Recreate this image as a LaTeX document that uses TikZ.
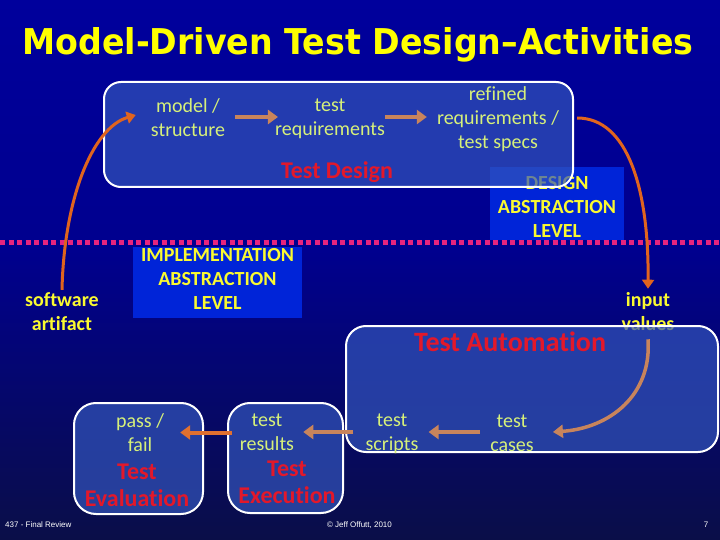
\documentclass[tikz,border=0pt]{standalone}
\usepackage{fontspec}
\setmainfont{Carlito}[Ligatures=NoCommon]
\newfontfamily\titlefont{DejaVu Sans}
\newfontfamily\footfont{Liberation Sans}
\usetikzlibrary{arrows.meta}
\definecolor{bgtop}{HTML}{00009C}
\definecolor{bgmid}{HTML}{00008E}
\definecolor{bgbot}{HTML}{0A0E48}
\definecolor{boxblue}{HTML}{3355BB}
\definecolor{lvlblue}{HTML}{0024D8}
\definecolor{lblgreen}{HTML}{D6F07A}
\definecolor{ylw}{HTML}{FAFA30}
\definecolor{titleylw}{HTML}{FFFF00}
\definecolor{rred}{HTML}{E3182A}
\definecolor{tanc}{HTML}{C8845C}
\definecolor{orangec}{HTML}{E0641E}
\definecolor{orange2}{HTML}{E07030}
\definecolor{dotc}{HTML}{E6247E}
\begin{document}
\begin{tikzpicture}[x=1pt,y=-1pt,
  lbl/.style={text=lblgreen, align=center, font=\fontsize{20}{24}\selectfont, inner sep=0pt},
  ylbl/.style={text=ylw, align=center, font=\bfseries\fontsize{20}{24}\selectfont, inner sep=0pt},
  rtitle/.style={text=rred, align=center, font=\bfseries\fontsize{24}{27}\selectfont, inner sep=0pt},
  stage/.style={draw=white, line width=2pt, fill=boxblue, fill opacity=0.7, inner sep=0pt},
  level/.style={fill=lvlblue, inner sep=0pt},
  tanarrow/.style={draw=tanc, line width=4pt, -{Triangle[length=10pt,width=14pt]}},
  orarrow/.style={draw=orange2, line width=4pt, -{Triangle[length=10pt,width=14pt]}},
  curvearrow/.style={draw=orangec, line width=3pt, -{Triangle[length=9pt,width=12pt]}},
  curvetan/.style={draw=tanc, line width=3.5pt, -{Triangle[length=10pt,width=13pt]}},
  foot/.style={text=white, font=\footfont\fontsize{8}{9}\selectfont, inner sep=0pt}]
\useasboundingbox (0,0) rectangle (720,540);
% background
\shade[top color=bgtop, bottom color=bgmid] (0,0) rectangle (720,250);
\shade[top color=bgmid, bottom color=bgbot] (0,250) rectangle (720,540);
% title
\node[text=titleylw, anchor=base, inner sep=0pt] (title) at (358,55)
  {\resizebox{671pt}{27pt}{\titlefont\bfseries Model-Driven Test Design–Activities}};
% abstraction level boxes
\node[level, minimum width=134pt, minimum height=73pt] (dlvlbox) at (557,203.5) {};
\node[ylbl] (dlvl) at (557,207) {DESIGN\\ABSTRACTION\\LEVEL};
\node[level, minimum width=169pt, minimum height=71pt] (ilvlbox) at (217.5,282.5) {};
\node[ylbl] (ilvl) at (217.5,279) {IMPLEMENTATION\\ABSTRACTION\\LEVEL};
% dotted separator
\draw[dotc, line width=5pt, dash pattern=on 5pt off 3.5pt] (0,242) -- (720,242);
% yellow free labels
\node[ylbl] (sw) at (62,312) {software\\artifact};
\node[ylbl] (inputv) at (648,312) {input\\values};
% stage boxes
\node[stage, rounded corners=17pt, minimum width=469pt, minimum height=105pt] (tdbox) at (338.5,134.5) {};
\node[stage, rounded corners=20pt, minimum width=372pt, minimum height=126pt] (tabox) at (532,389) {};
\node[stage, rounded corners=22pt, minimum width=115pt, minimum height=110pt] (texbox) at (285.5,458) {};
\node[stage, rounded corners=22pt, minimum width=129pt, minimum height=111pt] (tevbox) at (138.5,458.5) {};
% stage titles
\node[rtitle] (tdt) at (337,172) {Test Design};
\node[rtitle, font=\bfseries\fontsize{28}{30}\selectfont] (tat) at (510,342) {Test Automation};
\node[rtitle] (texec) at (287,482) {Test\\Execution};
\node[rtitle] (teval) at (137,485) {Test\\Evaluation};
% artifacts
\node[lbl] (model) at (188,118) {model /\\structure};
\node[lbl] (treq) at (330,118.5) {test\\requirements};
\node[lbl] (refined) at (498,119) {refined\\requirements /\\test specs};
\node[lbl] (tcases) at (512,433) {test\\cases};
\node[lbl] (tscripts) at (392,434) {test\\scripts};
\node[lbl] (tresults) at (267,432.5) {test\\results};
\node[lbl] (pf) at (140,432.5) {pass /\\fail};
% straight arrows
\draw[tanarrow] ([xshift=10pt,yshift=1pt]model.east) -- ([xshift=3pt,yshift=1pt]model.east -| treq.west);
\draw[tanarrow] ([yshift=1.5pt]treq.east) -- ([xshift=-10pt,yshift=1.5pt]treq.east -| refined.west);
\draw[tanarrow] ([xshift=-10pt,yshift=1pt]tcases.west) -- ([xshift=10pt,yshift=1pt]tcases.west -| tscripts.east);
\draw[tanarrow] ([xshift=-12pt,yshift=2pt]tscripts.west) -- ([xshift=9pt,yshift=2pt]tscripts.west -| tresults.east);
\draw[orarrow] ([xshift=-8pt]tresults.west) -- ([xshift=16pt]tresults.west -| pf.east);
% curved arrows
\draw[curvearrow] ([yshift=3pt]sw.north) .. controls (64,200) and (92,128) .. ([xshift=-15pt,yshift=3pt]model.west);
\draw[curvearrow] ([xshift=18pt,yshift=1pt]refined.east) .. controls (628,118) and (649,190) .. ([yshift=4pt]inputv.north);
\draw[curvetan] ([yshift=-8pt]inputv.south) .. controls (652,395) and (610,428) .. ([xshift=19pt,yshift=1pt]tcases.east);
% footer
\node[foot, anchor=west] (fl) at (5,525) {437 - Final Review};
\node[foot] (fc) at (359.5,525) {© Jeff Offutt, 2010};
\node[foot] (fr) at (706,525) {7};
\end{tikzpicture}
\end{document}
